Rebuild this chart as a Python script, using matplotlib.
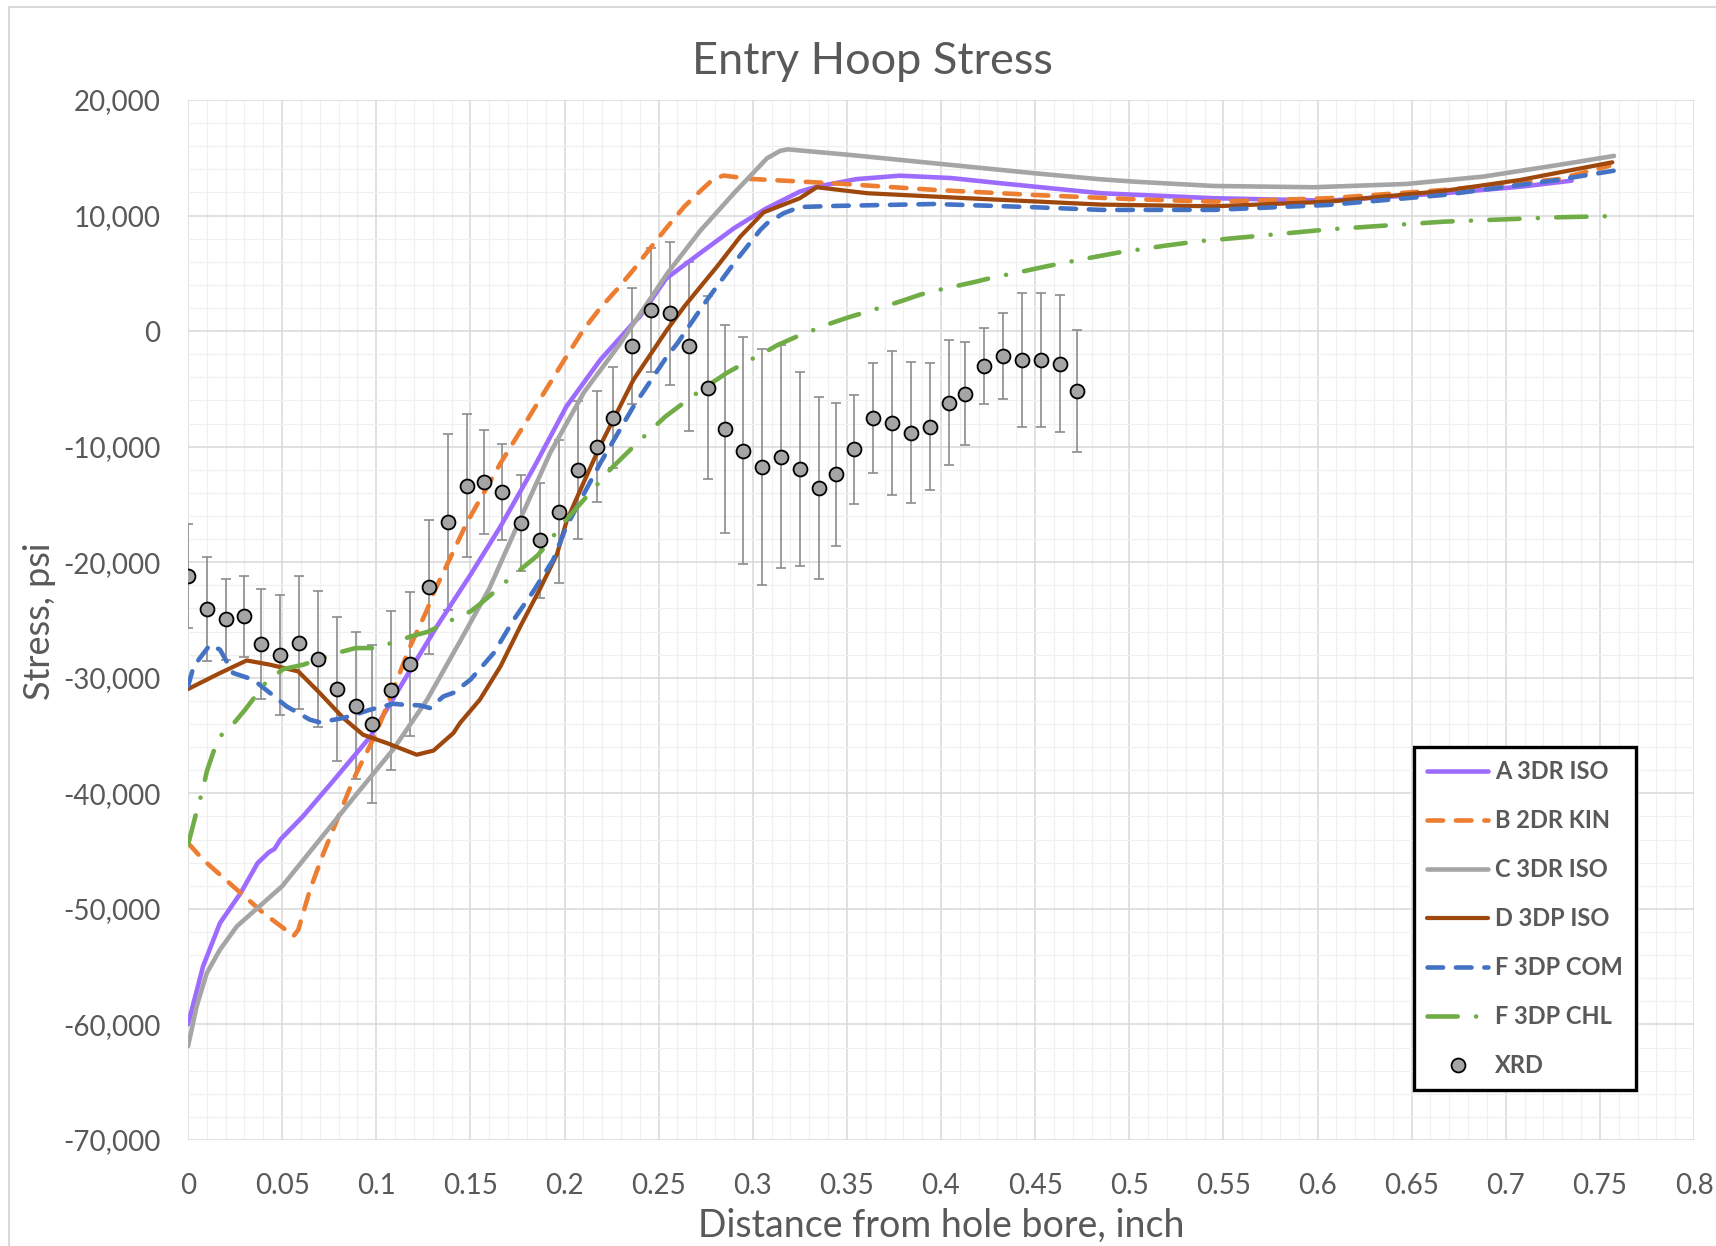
import matplotlib
matplotlib.use("Agg")
import matplotlib.pyplot as plt
from matplotlib.ticker import MultipleLocator, FixedLocator, FuncFormatter
from matplotlib.patches import Rectangle

plt.rcParams['font.family'] = ['Lato', 'DejaVu Sans']

# ---------------- data ----------------
a_x = [0, 0.008, 0.017, 0.028, 0.037, 0.043, 0.046, 0.049, 0.061, 0.077, 0.097, 0.115, 0.132,
       0.150, 0.166, 0.184, 0.201, 0.219, 0.2365, 0.240, 0.254, 0.272, 0.290, 0.307, 0.325,
       0.334, 0.355, 0.378, 0.405, 0.432, 0.485, 0.545, 0.606, 0.667, 0.708, 0.735]
a_y = [-60000, -54970, -51220, -48620, -46030, -45100, -44800, -44010, -42000, -38950, -35070,
       -30170, -25600, -21100, -16910, -11720, -6530, -2490, 690, 1260, 4550, 6740, 8900,
       10600, 12070, 12500, 13150, 13450, 13250, 12790, 11930, 11500, 11290, 11930, 12500, 13020]

b_x = [0, 0.008, 0.026, 0.040, 0.0506, 0.056, 0.0586, 0.0648, 0.072, 0.0807, 0.0878, 0.0914,
       0.100, 0.109, 0.118, 0.127, 0.1304, 0.138, 0.148, 0.166, 0.1835, 0.201, 0.210, 0.219,
       0.2277, 0.2366, 0.2455, 0.2547, 0.2636, 0.272, 0.279, 0.2845, 0.299, 0.343, 0.397,
       0.450, 0.503, 0.545, 0.606, 0.667, 0.7275, 0.755]
b_y = [-44300, -45740, -48340, -50350, -51650, -52370, -51800, -48340, -45170, -41700, -38820,
       -37600, -34780, -31040, -27290, -24120, -22670, -20080, -16620, -11430, -6815, -2200,
       100, 2000, 3570, 5300, 7170, 9040, 10770, 12100, 13150, 13460, 13170, 12790, 12215,
       11780, 11410, 11200, 11500, 12215, 13140, 14300]

c_x = [0, 0.0046, 0.010, 0.017, 0.026, 0.050, 0.079, 0.0914, 0.109, 0.127, 0.145, 0.160,
       0.175, 0.1925, 0.2103, 0.229, 0.234, 0.2547, 0.2722, 0.290, 0.3076, 0.3146, 0.3186,
       0.352, 0.3966, 0.4497, 0.4846, 0.503, 0.545, 0.598, 0.647, 0.688, 0.728, 0.7575]
c_y = [-61890, -58430, -55540, -53525, -51500, -48040, -42190, -39700, -36200, -31900, -26700,
       -22300, -16800, -10500, -5300, -1200, 0, 5010, 8700, 11930, 14960, 15600, 15730,
       15240, 14520, 13660, 13140, 12930, 12560, 12450, 12730, 13370, 14380, 15160]

d_x = [0, 0.017, 0.0312, 0.0436, 0.0586, 0.070, 0.0825, 0.093, 0.1056, 0.1215, 0.1304,
       0.141, 0.1445, 0.155, 0.166, 0.1765, 0.187, 0.196, 0.2012, 0.210, 0.219, 0.2366,
       0.2544, 0.2636, 0.272, 0.281, 0.2934, 0.3057, 0.325, 0.334, 0.361, 0.414, 0.485,
       0.545, 0.606, 0.667, 0.7077, 0.7566]
d_y = [-30980, -29590, -28500, -28870, -29450, -31320, -33480, -34930, -35650, -36660, -36300,
       -34780, -33910, -31900, -29010, -25560, -22300, -19300, -16400, -13160, -9900, -4220,
       100, 2120, 3800, 5580, 8180, 10270, 11500, 12450, 11930, 11500, 10950, 10800, 11200,
       12130, 13080, 14610]

e_x = [0, 0.003, 0.0117, 0.017, 0.024, 0.0347, 0.0436, 0.0524, 0.0648, 0.070, 0.0825, 0.0914,
       0.0966, 0.109, 0.1144, 0.1233, 0.1286, 0.1357, 0.141, 0.150, 0.1624, 0.173, 0.1835,
       0.194, 0.201, 0.219, 0.2366, 0.2544, 0.260, 0.272, 0.2757, 0.290, 0.304, 0.3076,
       0.3164, 0.325, 0.343, 0.3966, 0.4497, 0.485, 0.503, 0.545, 0.606, 0.667, 0.7275, 0.7618]
e_y = [-30740, -29010, -27140, -27570, -29590, -30170, -31320, -32480, -33630, -33860, -33480,
       -33050, -32770, -32250, -32330, -32390, -32620, -31610, -31300, -30170, -27860, -24980,
       -22500, -19790, -16910, -11430, -6530, -2200, -1050, 1830, 2700, 5870, 8755, 9330,
       10200, 10740, 10830, 11000, 10720, 10490, 10490, 10490, 10920, 11780, 13080, 14000]

f_x = [0, 0.0046, 0.0076, 0.010, 0.016, 0.0237, 0.0303, 0.0418, 0.0506, 0.0612, 0.079, 0.089,
       0.100, 0.118, 0.128, 0.1375, 0.150, 0.154, 0.162, 0.170, 0.1855, 0.192, 0.1977, 0.211,
       0.218, 0.2244, 0.2385, 0.246, 0.2536, 0.2695, 0.278, 0.2862, 0.2986, 0.304, 0.313,
       0.323, 0.341, 0.351, 0.361, 0.379, 0.389, 0.399, 0.4186, 0.4288, 0.439, 0.457, 0.468,
       0.478, 0.497, 0.5076, 0.518, 0.538, 0.5454, 0.6063, 0.667, 0.728, 0.761]
f_y = [-44440, -41560, -39830, -38100, -35220, -34060, -32770, -30310, -29250, -28870, -27860,
       -27430, -27430, -26440, -25990, -25200, -24260, -23770, -22670, -21520, -19440, -18210,
       -16910, -14460, -13160, -11950, -9700, -8545, -7390, -5460, -4510, -3620, -2490, -2060,
       -1220, -500, 650, 1200, 1690, 2600, 3160, 3570, 4280, 4690, 5010, 5640, 5990, 6310,
       6880, 7110, 7370, 7800, 7890, 8810, 9470, 9850, 9970]

xrd_x = [0.000, 0.010, 0.020, 0.030, 0.039, 0.049, 0.059, 0.069, 0.079, 0.089, 0.098, 0.108,
         0.118, 0.128, 0.138, 0.148, 0.157, 0.167, 0.177, 0.187, 0.197, 0.207, 0.217, 0.226,
         0.236, 0.246, 0.256, 0.266, 0.276, 0.285, 0.295, 0.305, 0.315, 0.325, 0.335, 0.344,
         0.354, 0.364, 0.374, 0.384, 0.394, 0.404, 0.413, 0.423, 0.433, 0.443, 0.453, 0.463, 0.472]
xrd_y = [-21200, -24030, -24920, -24660, -27060, -28010, -26950, -28360, -30980, -32400, -34000,
         -31100, -28800, -22150, -16530, -13380, -13050, -13910, -16620, -18120, -15640, -12030,
         -9990, -7480, -1310, 1830, 1550, -1310, -4890, -8460, -10340, -11750, -10860, -11950,
         -13590, -12380, -10220, -7510, -7940, -8810, -8260, -6190, -5430, -3040, -2170, -2490,
         -2490, -2810, -5200]
xrd_err = [4500, 4500, 3500, 3500, 4770, 5200, 5750, 5900, 6200, 6400, 6800, 6850, 6250, 5800,
           7600, 6200, 4480, 4140, 4130, 5000, 6200, 5950, 4830, 4350, 5000, 5400, 6200, 7300,
           7900, 9000, 9800, 10200, 9650, 8400, 7900, 6200, 4700, 4750, 6200, 6100, 5500, 5430,
           4450, 3300, 3700, 5800, 5800, 5900, 5300]

labels = ['A 3DR ISO', 'B 2DR KIN', 'C 3DR ISO', 'D 3DP ISO', 'F 3DP COM', 'F 3DP CHL', 'XRD']
x_ticks = [0, 0.05, 0.1, 0.15, 0.2, 0.25, 0.3, 0.35, 0.4, 0.45, 0.5, 0.55, 0.6, 0.65, 0.7, 0.75, 0.8]
y_ticks = [-70000, -60000, -50000, -40000, -30000, -20000, -10000, 0, 10000, 20000]

# ---------------- figure ----------------
W, H = 1716, 1246
fig = plt.figure(figsize=(W / 100, H / 100), dpi=100)
fig.patches.append(Rectangle((9 / W, -0.01), 1.02, 1 - 7 / H + 0.01, transform=fig.transFigure,
                             fill=False, edgecolor='#d9d9d9', linewidth=1.5))
L, R, T, B = 188, 1694, 100, 1140
ax = fig.add_axes([L / W, 1 - B / H, (R - L) / W, (B - T) / H])

TXT = '#595959'
lw = 3.3
dash = (0, (3.4, 2.8))

ax.plot(a_x, a_y, color='#9E6BFF', lw=lw, label=labels[0], zorder=3, solid_capstyle='round')
ax.plot(b_x, b_y, color='#ED7D31', lw=lw, label=labels[1], zorder=3,
        linestyle=dash, dash_capstyle='round')
ax.plot(c_x, c_y, color='#A5A5A5', lw=lw, label=labels[2], zorder=3, solid_capstyle='round')
ax.plot(d_x, d_y, color='#9E480E', lw=lw * 0.92, label=labels[3], zorder=3, solid_capstyle='round')
ax.plot(e_x, e_y, color='#4472C4', lw=lw, label=labels[4], zorder=3,
        linestyle=dash, dash_capstyle='round')
ax.plot(f_x, f_y, color='#70AD47', lw=lw, label=labels[5], zorder=3,
        linestyle=(0, (6.6, 4.0, 0.01, 4.0)), dash_capstyle='round')

ax.errorbar(xrd_x, xrd_y, yerr=xrd_err, fmt='none', ecolor='#8c8c8c', elinewidth=1.2,
            capsize=3.8, capthick=1.2, zorder=2)
ax.plot(xrd_x, xrd_y, 'o', ms=10, mfc='#A5A5A5', mec='black', mew=1.3, lw=0,
        label=labels[6], zorder=4)

ax.set_xlim(0, 0.8)
ax.set_ylim(-70000, 20000)
ax.xaxis.set_major_locator(FixedLocator(x_ticks))
ax.yaxis.set_major_locator(FixedLocator(y_ticks))
ax.xaxis.set_minor_locator(MultipleLocator(0.01))
ax.yaxis.set_minor_locator(MultipleLocator(2000))
ax.xaxis.set_major_formatter(FuncFormatter(lambda v, p: f"{round(v, 2):g}"))
ax.yaxis.set_major_formatter(FuncFormatter(lambda v, p: f"{int(round(v)):,}"))
ax.grid(which='major', color='#d9d9d9', linewidth=1.1, zorder=0)
ax.grid(which='minor', color='#f0f0f0', linewidth=0.9, zorder=0)
ax.set_axisbelow(True)
for s in ax.spines.values():
    s.set_visible(False)
ax.tick_params(which='both', length=0)
ax.tick_params(axis='y', labelsize=20, labelcolor=TXT, pad=20)
ax.tick_params(axis='x', labelsize=20, labelcolor=TXT, pad=24)

fig.text(872 / W, 1 - 61 / H, 'Entry Hoop Stress', ha='center', va='center', fontsize=32.5, color=TXT)
fig.text(941 / W, 1 - 1226 / H, 'Distance from hole bore, inch', ha='center', va='center',
         fontsize=27, color=TXT)
fig.text(39 / W, 1 - 621 / H, 'Stress, psi', ha='center', va='center', rotation=90,
         fontsize=26, color=TXT)

leg = ax.legend(loc='upper left', bbox_to_anchor=((1414 - L) / (R - L), (B - 747) / (B - T)),
                frameon=True, fancybox=False, framealpha=1, edgecolor='black',
                prop={'weight': 'bold', 'size': 17}, labelcolor=TXT, handlelength=2.6,
                labelspacing=1.1, borderpad=0.55, handletextpad=0.3, borderaxespad=0)
leg.get_frame().set_linewidth(2.4)

fig.savefig('out.png', dpi=100)
